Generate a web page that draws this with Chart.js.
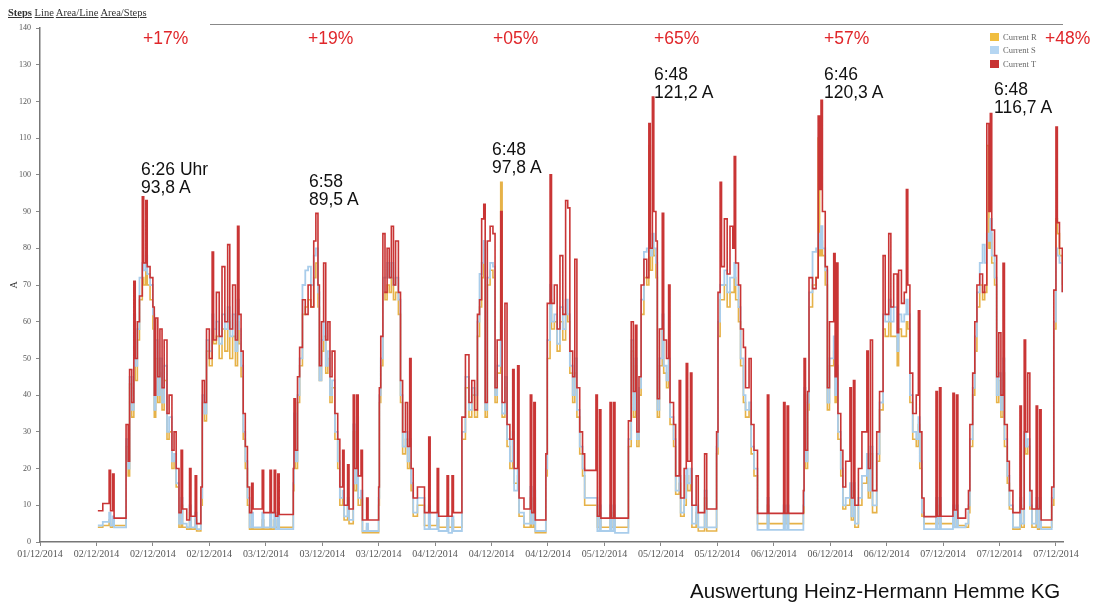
<!DOCTYPE html>
<html>
<head>
<meta charset="utf-8">
<script src="https://cdn.jsdelivr.net/npm/chart.js@4.4.1/dist/chart.umd.min.js"></script>
<style>
body { margin: 0; background: #fff; }
#wrap { position: relative; width: 1097px; height: 605px; overflow: hidden; font-family: "Liberation Sans", Arial, sans-serif; }
#wrap canvas { position: absolute; left: 0; top: 0; }
.links { position: absolute; left: 8px; top: 6px; font-family: "Liberation Serif", serif; font-size: 10.5px; line-height: 14px; color: #333; white-space: nowrap; }
.links span { text-decoration: underline; }
.topline { position: absolute; left: 210px; top: 24px; width: 853px; border-top: 1.5px solid #888; }
.pct { position: absolute; top: 30px; color: #e0262a; font-size: 17.5px; line-height: 17.5px; }
.peak { position: absolute; color: #111; font-size: 17.5px; line-height: 17.5px; }
.legend { position: absolute; left: 990px; top: 31px; font-family: "Liberation Serif", serif; font-size: 8.5px; color: #666; }
.legend div { height: 13.3px; line-height: 12px; white-space: nowrap; }
.legend i { display: inline-block; width: 9px; height: 8px; margin-right: 4px; vertical-align: -1px; }
.credit { position: absolute; left: 690px; top: 579px; font-size: 20.5px; line-height: 23px; color: #111; white-space: nowrap; }
</style>
</head>
<body>
<div id="wrap">
  <canvas id="currentChart" width="1097" height="605"></canvas>
  <div class="links"><span><b>Steps</b></span> <span>Line</span> <span>Area/Line</span> <span>Area/Steps</span></div>
  <div class="topline"></div>

  <div class="pct" style="left:143px">+17%</div>
  <div class="pct" style="left:308px">+19%</div>
  <div class="pct" style="left:493px">+05%</div>
  <div class="pct" style="left:654px">+65%</div>
  <div class="pct" style="left:824px">+57%</div>
  <div class="pct" style="left:1045px">+48%</div>

  <div class="peak" style="left:141px;top:161px">6:26 Uhr<br>93,8 A</div>
  <div class="peak" style="left:309px;top:173px">6:58<br>89,5 A</div>
  <div class="peak" style="left:492px;top:141px">6:48<br>97,8 A</div>
  <div class="peak" style="left:654px;top:66px">6:48<br>121,2 A</div>
  <div class="peak" style="left:824px;top:66px">6:46<br>120,3 A</div>
  <div class="peak" style="left:994px;top:81px">6:48<br>116,7 A</div>

  <div class="legend">
    <div><i style="background:#f0be40"></i>Current R</div>
    <div><i style="background:#b5d6f2"></i>Current S</div>
    <div><i style="background:#c83232"></i>Current T</div>
  </div>

  <div class="credit">Auswertung Heinz-Hermann Hemme KG</div>
</div>

<script>
/*---- messwerte: stunden ab 01/12/2014 00:00, eine zeile pro tag ----- */

var hours = [
  24.2, 24.9, 25.8, 26.0, 26.3, 26.5, 28.2, 28.5, 28.7, 29.0, 29.3, 29.5, 29.8, 30.1, 30.5, 30.7, 31.0, 31.2, 31.6, 32.0, 32.2, 32.4, 32.7, 33.0, 33.3, 33.6, 34.0, 34.3, 34.7, 35.0, 35.3, 35.7, 36.0, 36.2, 36.8, 37.2, 37.4, 38.0, 38.2, 38.8, 39.0, 39.3, 39.6, 40.0, 40.4, 40.6, 41.0, 41.4, 41.8, 42.2, 42.6, 42.9, 43.3, 43.7, 44.0, 44.2, 44.5, 44.8, 45.1, 45.4, 45.7, 46.0, 46.2, 47.5, 47.7, 48.6, 48.8, 49.2, 49.4, 49.7, 49.9, 51.9,
  52.0, 52.2, 52.5, 52.8, 53.2, 53.6, 54.0, 54.4, 54.8, 55.1, 55.4, 55.6, 55.9, 56.2, 56.5, 56.8, 57.1, 57.4, 57.8, 58.2, 58.5, 58.9, 59.1, 59.6, 59.8, 60.4, 60.6, 60.9, 61.1, 61.5, 61.7, 62.3, 62.5, 64.0, 64.1, 64.3, 64.6, 64.9, 65.2, 65.5, 65.8, 66.1, 66.4, 66.8, 67.1, 67.4, 67.8, 68.1, 68.4, 68.6, 68.9, 69.5, 70.5, 71.1, 71.3, 72.3, 72.5, 73.7, 73.9, 74.4, 74.6, 75.8,
  76.3, 76.8, 77.2, 77.6, 78.0, 78.3, 78.6, 78.9, 79.1, 79.4, 79.8, 80.2, 80.5, 80.8, 81.3, 81.5, 81.9, 82.2, 82.6, 83.0, 83.2, 83.7, 83.9, 84.6, 85.5, 85.7, 86.0, 86.2, 87.7, 87.9, 88.3, 88.5, 88.9, 89.3, 89.7, 90.1, 90.5, 90.8, 91.1, 91.5, 91.8, 92.1, 92.5, 92.9, 93.2, 94.8, 95.0, 95.3, 95.5, 96.8, 97.0, 97.3, 97.5, 99.4, 99.8,
  100.1, 100.4, 100.6, 100.9, 101.2, 101.6, 102.0, 102.3, 102.5, 102.8, 103.0, 103.3, 103.5, 103.8, 104.2, 104.4, 104.8, 105.1, 105.3, 105.8, 106.1, 106.6, 106.8, 107.3, 107.6, 107.8, 108.2, 108.4, 109.0, 109.3, 110.2, 110.5, 111.9, 112.1, 112.4, 112.6, 113.0, 113.4, 113.8, 114.2, 114.4, 114.6, 115.0, 115.3, 115.7, 116.0, 116.5, 116.8, 117.2, 117.7, 119.1, 119.3, 121.4, 121.6, 121.9, 122.1, 124.2,
  124.3, 124.5, 124.8, 125.0, 125.5, 126.0, 126.3, 126.5, 126.7, 126.9, 127.3, 127.6, 127.9, 128.5, 128.7, 128.9, 129.1, 129.5, 129.8, 130.2, 130.8, 131.0, 131.3, 131.5, 132.0, 132.5, 133.2, 133.4, 133.7, 134.0, 134.6, 135.0, 135.5, 135.8, 136.3, 136.6, 137.0, 137.5, 137.7, 138.1, 138.5, 138.8, 139.0, 139.3, 139.7, 140.2, 140.5, 140.7, 141.0, 141.3, 143.0, 143.2, 143.5, 143.7,
  145.4, 145.6, 145.9, 146.1, 147.2, 147.6, 147.8, 148.2, 148.5, 148.8, 149.2, 149.6, 149.9, 150.2, 150.5, 150.7, 150.9, 151.3, 151.6, 151.9, 152.2, 152.5, 152.7, 153.1, 153.4, 153.9, 154.9, 155.1, 155.5, 155.7, 156.0, 156.3, 156.6, 157.2, 157.4, 157.7, 157.9, 159.4, 159.7, 160.0, 160.2, 160.5, 160.9
];

var currentT = [
  8.5, 10.5, 19.5, 8.5, 18.5, 6.5, 32, 22, 47, 38, 71, 50, 60, 67, 94, 76, 93, 75, 72, 64, 40, 61, 45, 58, 42, 55, 35, 40, 25, 30, 20, 8, 25, 9, 6, 20, 7, 18, 5, 15, 44, 38, 58, 50, 79, 55, 68, 56, 75, 60, 81, 58, 70, 55, 86, 62, 52, 35, 26, 15, 8, 16, 9, 19.5, 8, 19.5, 8, 19.5, 7, 18.5, 7.5, 20,
  39, 25, 45, 53, 66, 62, 70, 64, 82, 89.5, 70, 48, 60, 76, 55, 60, 45, 52, 35, 28, 15, 25, 10, 21, 9, 40, 20, 40, 18, 25, 6, 12, 6, 15, 42, 56, 84, 68, 80, 72, 86, 70, 82, 68, 44, 30, 38, 26, 50, 20, 12, 15, 8, 28.6, 8, 20, 7, 18, 7, 18, 8, 34,
  51, 38, 44, 36, 62, 66, 88, 92, 38, 82, 86, 84, 42, 55, 90, 38, 65, 32, 28, 47, 20, 48, 12, 9, 40, 8, 38, 6, 24, 65, 100, 65, 70, 58, 78, 62, 93, 91, 52, 45, 77, 42, 30, 24, 19.5, 40, 7, 36, 6.5, 38, 6.5, 38, 6.5, 33, 60,
  41, 59, 30, 45, 70, 77, 72, 114, 80, 121.2, 90, 82, 39, 58, 89.5, 55, 50, 70, 38, 32, 18, 44, 12, 20, 48.6, 22, 46, 10, 18, 8, 24, 9, 30, 68, 98, 75, 88, 73, 86, 80, 105, 76, 70, 58, 53, 42, 50, 32, 25, 7.8, 40, 7.8, 38, 7.8, 37, 7.8, 14,
  50, 25, 41, 72, 69, 72, 116, 96, 120.3, 90, 75, 42, 60, 78.6, 45, 76, 35, 25, 15, 22, 42, 12, 44, 10, 20, 30, 52, 20, 55, 14, 30, 41, 78, 62, 84, 64, 73, 57, 74, 65, 68, 96, 70, 46, 35, 40, 63, 30, 12, 6.9, 41, 7, 42, 7,
  40.5, 8.7, 40, 6.5, 9, 14, 32, 46, 60, 70, 73, 68, 70, 114, 90, 116.7, 85, 78, 45, 57, 40, 75.9, 32, 22, 14, 8, 37, 9, 55, 30, 46, 14, 9, 37, 9, 36, 6, 15, 68.6, 113, 87, 80, 68
];

var currentS = [
  4.5, 5.5, 8, 4.5, 7, 4, 28, 20, 45, 36, 62, 48, 58, 72, 76, 74, 78, 73, 70, 62, 36, 55, 40, 50, 38, 48, 30, 34, 22, 24, 16, 5, 12, 5, 4, 10, 4, 8, 3.5, 12, 40, 35, 55, 52, 62, 58, 60, 54, 62, 58, 64, 56, 62, 52, 66, 58, 48, 30, 22, 12, 4, 8, 4, 8, 4, 8, 4, 8, 3.5, 8, 3.5, 16,
  35, 22, 40, 50, 70, 74, 75, 70, 78, 80, 68, 44, 55, 60, 48, 52, 40, 44, 30, 22, 12, 14, 7, 12, 6, 32, 16, 34, 12, 14, 3, 5, 3, 12, 40, 50, 72, 72, 76, 72, 76, 70, 72, 66, 40, 26, 30, 22, 28, 16, 8, 12, 3.5, 10, 3.5, 8, 3, 7, 2.5, 7, 3, 30,
  45, 36, 42, 40, 60, 73, 76, 82, 36, 72, 76, 75, 40, 48, 60, 35, 45, 28, 22, 30, 14, 20, 8, 5, 15, 5, 14, 3, 20, 55, 70, 60, 62, 54, 64, 58, 66, 62, 48, 40, 50, 36, 26, 20, 12, 12, 3, 10, 3, 10, 3, 10, 2.5, 28, 55,
  36, 50, 28, 42, 66, 79, 80, 82, 78, 84, 80, 76, 36, 50, 62, 48, 44, 50, 34, 28, 14, 18, 8, 12, 20, 16, 20, 5, 10, 4, 14, 4, 26, 60, 70, 70, 74, 68, 72, 72, 76, 70, 64, 50, 40, 36, 38, 26, 20, 3.3, 12, 3.3, 10, 3.3, 10, 3.3, 10,
  42, 22, 38, 68, 79, 80, 84, 80, 86, 80, 74, 38, 50, 56, 40, 48, 30, 20, 10, 12, 16, 7, 16, 5, 12, 18, 24, 14, 26, 10, 24, 38, 62, 60, 66, 60, 64, 52, 62, 60, 62, 66, 62, 40, 30, 28, 34, 22, 8, 3.5, 12, 3.5, 12, 3.5,
  10, 4, 10, 4, 5, 10, 28, 42, 56, 68, 76, 81, 76, 84, 82, 88, 78, 72, 40, 46, 36, 50, 28, 18, 10, 4, 12, 5, 30, 26, 28, 10, 5, 12, 4, 12, 3.5, 12, 60, 80, 78, 76, 68
];

var currentR = [
  4, 4.5, 6, 4, 5, 4.5, 26, 18, 43, 34, 58, 44, 55, 66, 72, 70, 74, 70, 66, 58, 34, 50, 38, 46, 36, 44, 28, 30, 20, 22, 15, 4, 10, 4, 3.5, 8, 3.5, 6, 3, 10, 38, 33, 52, 48, 58, 54, 56, 50, 58, 52, 60, 50, 56, 48, 60, 54, 45, 28, 20, 10, 3.5, 6, 3.5, 6, 3.5, 6, 3.5, 6, 4, 6, 4, 14,
  33, 20, 38, 48, 62, 64, 66, 64, 72, 76, 64, 44, 52, 56, 46, 50, 38, 42, 28, 20, 10, 12, 6, 10, 5, 30, 14, 32, 10, 12, 2.5, 4, 2.5, 10, 38, 48, 68, 66, 70, 68, 72, 66, 68, 62, 38, 24, 28, 20, 26, 14, 7, 10, 4.5, 8, 4.5, 6, 4, 6, 4, 6, 4, 28,
  42, 34, 40, 34, 56, 64, 72, 80, 34, 70, 74, 72, 38, 46, 98, 34, 42, 26, 20, 28, 16, 18, 7, 4, 12, 4, 12, 2.5, 18, 50, 66, 58, 60, 52, 60, 55, 62, 60, 46, 38, 46, 34, 24, 18, 10, 10, 4, 8, 4, 8, 4, 8, 4, 26, 52,
  34, 48, 26, 40, 62, 72, 70, 108, 74, 80, 78, 72, 34, 48, 58, 46, 42, 48, 32, 26, 13, 16, 7, 10, 18, 14, 18, 4, 8, 3, 12, 3, 24, 56, 66, 66, 70, 64, 68, 68, 72, 66, 60, 48, 38, 34, 36, 24, 18, 5, 10, 5, 8, 5, 8, 5, 8,
  40, 20, 36, 64, 70, 72, 110, 78, 82, 78, 70, 36, 48, 52, 38, 46, 28, 18, 9, 10, 14, 6, 14, 4, 10, 16, 22, 12, 24, 8, 22, 36, 58, 56, 60, 56, 56, 48, 58, 56, 56, 60, 58, 38, 28, 26, 32, 20, 7, 5, 10, 5, 10, 5,
  8, 4, 8, 4.5, 4, 8, 26, 40, 52, 64, 70, 66, 68, 108, 80, 84, 76, 70, 38, 44, 34, 46, 26, 16, 9, 3.5, 10, 4, 28, 24, 26, 9, 4, 10, 3.5, 10, 4, 10, 58, 88, 84, 78, 70
];

// x-achse: ein strich alle 8 stunden, 01/12 16:00 bis 07/12 16:00
var tickHours = [16, 24, 32, 40, 48, 56, 64, 72, 80, 88, 96, 104, 112, 120, 128, 136, 144, 152, 160];

function tickDate(h) {
  var day = Math.floor(h / 24) + 1;
  return (day < 10 ? '0' + day : day) + '/12/2014';
}

function series(label, values, color, width) {
  return {
    label: label,
    data: hours.map(function (h, i) { return { x: h, y: values[i] }; }),
    borderColor: color,
    backgroundColor: color,
    borderWidth: width,
    stepped: true,
    pointRadius: 0,
    fill: false
  };
}

/*---- stufen-grafik strom ----- */

var ctx = document.getElementById('currentChart').getContext('2d');
var currentChart = new Chart(ctx, {
  type: 'line',
  data: {
    datasets: [
      series('Current T', currentT, '#c93535', 1.6),
      series('Current S', currentS, '#a9cdeb', 1.8),
      series('Current R', currentR, '#e6b248', 1.6)
    ]
  },
  options: {
    responsive: false,
    animation: false,
    devicePixelRatio: 1,
    layout: { padding: { top: 28, right: 34, bottom: 43, left: 0 } },
    plugins: {
      legend: { display: false },
      tooltip: { enabled: false }
    },
    scales: {
      x: {
        type: 'linear',
        min: 16,
        max: 161,
        afterBuildTicks: function (scale) {
          scale.ticks = tickHours.map(function (h) { return { value: h }; });
        },
        afterFit: function (scale) { scale.height = 20; },
        grid: { drawOnChartArea: false, tickLength: 4, color: '#888' },
        border: { color: '#777', width: 1.5 },
        ticks: {
          autoSkip: false,
          maxRotation: 0,
          padding: 2,
          color: '#555',
          font: { family: 'Liberation Serif', size: 10 },
          callback: function (v) { return tickDate(v); }
        }
      },
      y: {
        min: 0,
        max: 140,
        afterFit: function (scale) { scale.width = 40; },
        grid: { drawOnChartArea: false, tickLength: 4, color: '#888' },
        border: { color: '#777', width: 1.5 },
        title: {
          display: true,
          text: 'A',
          color: '#333',
          padding: { top: 8, bottom: 0 },
          font: { family: 'Liberation Serif', size: 10 }
        },
        ticks: {
          stepSize: 10,
          padding: 5,
          color: '#555',
          font: { family: 'Liberation Serif', size: 8 }
        }
      }
    }
  }
});
</script>
</body>
</html>
